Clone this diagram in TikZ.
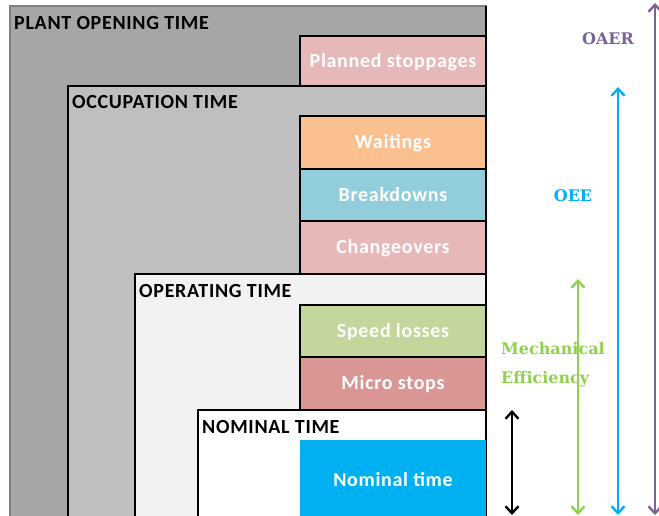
\documentclass[tikz,border=0pt]{standalone}
\usepackage{fontspec}
\setmainfont{Carlito}[LetterSpace=3.5]
\newfontfamily\ratiofont{DejaVu Serif}
\usetikzlibrary{arrows.meta}
\definecolor{plantfill}{HTML}{A6A6A6}
\definecolor{plantedge}{HTML}{7F7F7F}
\definecolor{occupfill}{HTML}{BFBFBF}
\definecolor{operfill}{HTML}{F2F2F2}
\definecolor{pinkloss}{HTML}{E6B9B8}
\definecolor{waitfill}{HTML}{FAC090}
\definecolor{breakfill}{HTML}{92CDDC}
\definecolor{speedfill}{HTML}{C3D69B}
\definecolor{microfill}{HTML}{D99694}
\definecolor{nomblue}{HTML}{00B0F0}
\definecolor{megreen}{HTML}{92D050}
\definecolor{oaerpurple}{HTML}{7B6396}

\begin{document}
\begin{tikzpicture}[x=1pt,y=-1pt]
	\useasboundingbox (0,0) rectangle (659,515);
	% nested time frames
	\filldraw[fill=plantfill,draw=plantedge,line width=1.2pt] (10,6) rectangle (486,530);
	\filldraw[fill=occupfill,line width=1.5pt] (68,86) rectangle (486,530);
	\filldraw[fill=operfill,line width=1.5pt] (135,274) rectangle (486,530);
	\filldraw[fill=white,line width=1.5pt] (198,410) rectangle (486,530);
	\draw[line width=1.5pt] (486,6) -- (486,515);

	\begin{scope}[every node/.style={anchor=base west,inner sep=0pt,
	              font=\fontsize{20}{24}\selectfont\bfseries}]
		\node (plant) at (14,29) {PLANT OPENING TIME};
		\node (occup) at (72,108) {OCCUPATION TIME};
		\node (oper) at (139,297) {OPERATING TIME};
		\node (nomt) at (202,433) {NOMINAL TIME};
	\end{scope}

	\begin{scope}[every node/.style={draw=black,line width=1.5pt,text=white,
	              minimum width=186pt,inner sep=0pt,text height=12pt,text depth=0pt,
	              font=\fontsize{20}{24}\selectfont\bfseries}]
		\node[fill=pinkloss,minimum height=50pt] (planned) at (393,61) {Planned stoppages};
		\node[fill=waitfill,minimum height=53pt] (wait) at (393,142.5) {Waitings};
		\node[fill=breakfill,minimum height=52pt] (brk) at (393,195) {Breakdowns};
		\node[fill=pinkloss,minimum height=53pt] (chg) at (393,247.5) {Changeovers};
		\node[fill=speedfill,minimum height=52pt] (speed) at (393,331) {Speed losses};
		\node[fill=microfill,minimum height=53pt] (micro) at (393,383.5) {Micro stops};
		\node[fill=nomblue,draw=none,minimum height=80pt] (nominal) at (393,480) {Nominal time};
	\end{scope}

	\begin{scope}[every node/.style={inner sep=0pt,
	              font=\ratiofont\fontsize{16}{29}\selectfont\bfseries}]
		\node[text=oaerpurple] (oaer) at (608,39) {OAER};
		\node[text=nomblue] (oee) at (573,196) {OEE};
		\node[text=megreen,anchor=north west,align=left] (mecheff) at (501,342) {Mechanical\\Efficiency};
	\end{scope}

	\coordinate (nomtop) at (512,410);
	\coordinate (nombot) at (512,515);
	\coordinate (metop) at (578,279);
	\coordinate (mebot) at (578,515);
	\coordinate (oeetop) at (618,87);
	\coordinate (oeebot) at (618,515);
	\coordinate (oaertop) at (655,3);
	\coordinate (oaerbot) at (655,515);

	\begin{scope}[line width=2.4pt,
	              arrows={Straight Barb[length=7pt,width=13pt]-Straight Barb[length=7pt,width=13pt]}]
		\draw (nomtop) -- (nombot);
		\draw[megreen] (metop) -- (mebot);
		\draw[nomblue] (oeetop) -- (oeebot);
		\draw[oaerpurple] (oaertop) -- (oaerbot);
	\end{scope}
\end{tikzpicture}
\end{document}
